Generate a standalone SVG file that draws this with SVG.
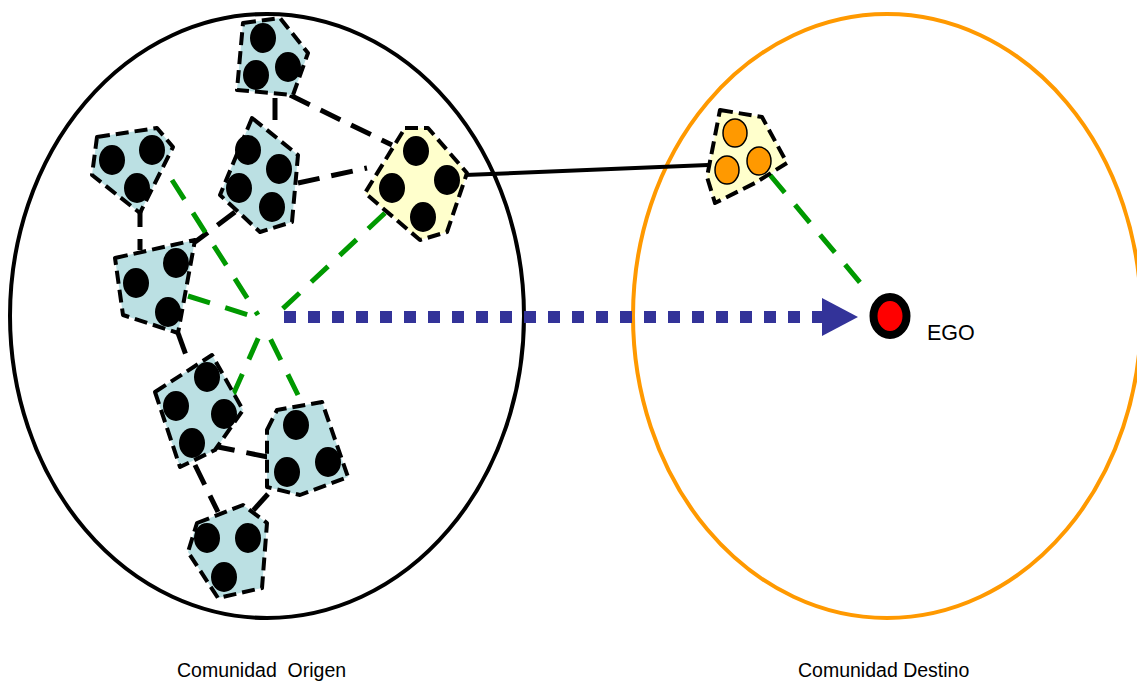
<svg xmlns="http://www.w3.org/2000/svg" width="1137" height="682" viewBox="0 0 1137 682">
<style>
.comm{fill:none;stroke-width:4}
.cl{fill:#BBE0E3;stroke:#000;stroke-width:4;stroke-dasharray:13 6;stroke-linejoin:round}
.yl{fill:#FFFFCC;stroke:#000;stroke-width:4;stroke-dasharray:13 6;stroke-linejoin:round}
.dot{fill:#000}
.odot{fill:#FF9900;stroke:#000;stroke-width:1.5}
.bl{stroke:#000;stroke-width:5;stroke-dasharray:22 12;fill:none}
.gr{stroke:#009900;stroke-width:5;stroke-dasharray:23 16;fill:none}
.lbl{font-family:"Liberation Sans",Arial,sans-serif;fill:#000}
</style>
<rect width="1137" height="682" fill="#fff"/>
<g id="comunidad-origen">
<ellipse class="comm" cx="267" cy="316" rx="257" ry="302" stroke="#000"/>
<text class="lbl" x="177" y="677" font-size="19.5" xml:space="preserve">Comunidad  Origen</text>
</g>
<g id="comunidad-destino">
<ellipse class="comm" cx="887" cy="316" rx="254" ry="302" stroke="#FF9900"/>
<text class="lbl" x="798" y="677" font-size="19.5">Comunidad Destino</text>
</g>
<g id="connectors">
<line class="bl" x1="275" y1="98" x2="275" y2="124"/>
<line class="bl" x1="290" y1="95" x2="392" y2="145"/>
<line class="bl" x1="298" y1="183" x2="367" y2="168"/>
<line class="bl" x1="140" y1="205" x2="140" y2="250" stroke-dasharray="22 0"/>
<line class="bl" x1="235" y1="212" x2="195" y2="242"/>
<line class="bl" x1="178" y1="333" x2="187" y2="358"/>
<line class="bl" x1="213" y1="446" x2="268" y2="457"/>
<line class="bl" x1="195" y1="465" x2="218" y2="512"/>
<line class="bl" x1="268" y1="494" x2="250" y2="514"/>
<line class="gr" x1="172" y1="180" x2="258" y2="315"/>
<line class="gr" x1="188" y1="296" x2="255" y2="317"/>
<line class="gr" x1="385" y1="213" x2="275" y2="316"/>
<line class="gr" x1="233" y1="395" x2="261" y2="332"/>
<line class="gr" x1="298" y1="395" x2="267" y2="332"/>
<line class="gr" x1="770" y1="175" x2="868" y2="292"/>
<line x1="465" y1="175" x2="708" y2="165" stroke="#000" stroke-width="4"/>
<line x1="284" y1="317" x2="824" y2="317" stroke="#333399" stroke-width="12" stroke-dasharray="12 12"/>
<polygon points="822,298 858,317 822,336" fill="#333399"/>
</g>
<g id="grupo-1">
<polygon class="cl" points="243,23 280,18 308,53 293,95 237,90"/>
<ellipse class="dot" cx="263" cy="38" rx="13" ry="15"/>
<ellipse class="dot" cx="288" cy="67" rx="13" ry="15"/>
<ellipse class="dot" cx="256" cy="75" rx="13" ry="15"/>
</g>
<g id="grupo-2">
<polygon class="cl" points="97,137 157,128 173,147 140,213 92,175"/>
<ellipse class="dot" cx="112" cy="160" rx="13" ry="15"/>
<ellipse class="dot" cx="152" cy="150" rx="13" ry="15"/>
<ellipse class="dot" cx="137" cy="188" rx="13" ry="15"/>
</g>
<g id="grupo-3">
<polygon class="cl" points="252,118 298,155 292,222 260,232 220,195"/>
<ellipse class="dot" cx="248" cy="150" rx="13" ry="15"/>
<ellipse class="dot" cx="279" cy="169" rx="13" ry="15"/>
<ellipse class="dot" cx="239" cy="188" rx="13" ry="15"/>
<ellipse class="dot" cx="272" cy="207" rx="13" ry="15"/>
</g>
<g id="grupo-puente">
<polygon class="yl" points="405,128 428,128 467,173 447,232 420,240 365,193"/>
<ellipse class="dot" cx="416" cy="151" rx="13" ry="15"/>
<ellipse class="dot" cx="447" cy="180" rx="13" ry="15"/>
<ellipse class="dot" cx="392" cy="188" rx="13" ry="15"/>
<ellipse class="dot" cx="423" cy="217" rx="13" ry="15"/>
</g>
<g id="grupo-4">
<polygon class="cl" points="115,258 195,240 178,333 123,315"/>
<ellipse class="dot" cx="136" cy="283" rx="13" ry="15"/>
<ellipse class="dot" cx="176" cy="263" rx="13" ry="15"/>
<ellipse class="dot" cx="168" cy="312" rx="13" ry="15"/>
</g>
<g id="grupo-5">
<polygon class="cl" points="155,392 212,355 243,410 215,450 180,467"/>
<ellipse class="dot" cx="207" cy="377" rx="13" ry="15"/>
<ellipse class="dot" cx="176" cy="406" rx="13" ry="15"/>
<ellipse class="dot" cx="224" cy="414" rx="13" ry="15"/>
<ellipse class="dot" cx="192" cy="443" rx="13" ry="15"/>
</g>
<g id="grupo-6">
<polygon class="cl" points="267,430 277,410 322,402 348,477 300,495 267,487"/>
<ellipse class="dot" cx="296" cy="425" rx="13" ry="15"/>
<ellipse class="dot" cx="328" cy="462" rx="13" ry="15"/>
<ellipse class="dot" cx="287" cy="472" rx="13" ry="15"/>
</g>
<g id="grupo-7">
<polygon class="cl" points="197,523 243,505 267,523 262,588 218,598 188,552"/>
<ellipse class="dot" cx="207" cy="538" rx="13" ry="15"/>
<ellipse class="dot" cx="248" cy="538" rx="13" ry="15"/>
<ellipse class="dot" cx="224" cy="577" rx="13" ry="15"/>
</g>
<g id="grupo-destino">
<polygon class="yl" points="720,110 762,117 787,163 755,183 715,203 707,177"/>
<ellipse class="odot" cx="735" cy="133" rx="12" ry="14"/>
<ellipse class="odot" cx="759" cy="161" rx="12" ry="14"/>
<ellipse class="odot" cx="727" cy="170" rx="12" ry="14"/>
</g>
<g id="ego">
<ellipse cx="890" cy="316" rx="16.5" ry="19" fill="#FF0000" stroke="#000" stroke-width="8"/>
<text class="lbl" x="927" y="340" font-size="21.5">EGO</text>
</g>
</svg>
